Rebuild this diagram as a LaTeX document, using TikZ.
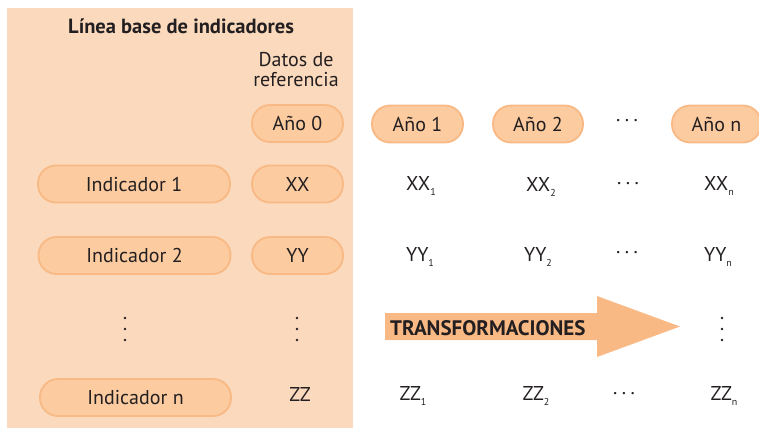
\documentclass[tikz,border=0pt]{standalone}
\usepackage{fontspec}
\setmainfont{PT Sans}
\definecolor{panelc}{HTML}{FBD9BC}
\definecolor{pillfill}{HTML}{FCCBA0}
\definecolor{pilledge}{HTML}{F8B985}
\definecolor{arrowc}{HTML}{F9B985}
\definecolor{txt}{HTML}{231F20}
\newcommand{\sbx}[1]{\raisebox{-5pt}{\fontsize{10}{10}\selectfont #1}}
\newcommand{\hdots}{.\hspace{4.5pt}.\hspace{4.5pt}.}
\tikzset{
  pill/.style={draw=pilledge, fill=pillfill, line width=1.8pt, rounded corners=18pt,
    minimum height=37pt, inner sep=0pt, text=txt, font=\fontsize{20}{20}\selectfont},
  plain/.style={inner sep=0pt, text=txt, font=\fontsize{20}{20}\selectfont},
  dotc/.style={fill=txt},
}
\begin{document}
\begin{tikzpicture}[x=1pt,y=-1pt]
\useasboundingbox (0,0) rectangle (759,429);
\fill[panelc] (7,8) rectangle (353,428);
\node[plain, font=\bfseries\fontsize{20.5}{20.5}\selectfont] (title) at (181,26) {Línea base de indicadores};
\node[plain, align=center, font=\fontsize{20}{20}\selectfont] (datos) at (296,70) {Datos de\\referencia};
% year pills
\node[pill, minimum width=91pt] (a0) at (297.5,123.5) {Año 0};
\node[pill, minimum width=91pt] (a1) at (417.5,124) {Año 1};
\node[pill, minimum width=90pt] (a2) at (538,124) {Año 2};
\node[plain] (adots) at (627,121) {\hdots};
\node[pill, minimum width=89pt] (an) at (716.5,124) {Año n};
% indicator pills
\node[pill, minimum width=192pt] (i1) at (134,184) {Indicador 1};
\node[pill, minimum width=91pt] (xx) at (297.5,184) {XX};
\node[pill, minimum width=192pt] (i2) at (134.5,255.5) {Indicador 2};
\node[pill, minimum width=91pt] (yy) at (297.5,255.5) {YY};
\node[pill, minimum width=191pt] (in) at (135.5,397.5) {Indicador n};
\node[plain] (zz) at (300,394) {ZZ};
% vertical dots
\foreach \x in {125,297,722}{
  \foreach \y in {318,329,340}{ \fill[dotc] (\x,\y) circle (1.3pt); }
}
% data values
\node[plain] (xx1) at (421,186) {XX\sbx{1}};
\node[plain] (xx2) at (541,187) {XX\sbx{2}};
\node[plain] (xdots) at (628,184) {\hdots};
\node[plain] (xxn) at (719,186) {XX\sbx{n}};
\node[plain] (yy1) at (420,257) {YY\sbx{1}};
\node[plain] (yy2) at (538,257) {YY\sbx{2}};
\node[plain] (ydots) at (627,253) {\hdots};
\node[plain] (yyn) at (718,257) {YY\sbx{n}};
\node[plain] (zz1) at (413,396) {ZZ\sbx{1}};
\node[plain] (zz2) at (536,396) {ZZ\sbx{2}};
\node[plain] (zdots) at (624,394) {\hdots};
\node[plain] (zzn) at (724,396) {ZZ\sbx{n}};
% arrow
\fill[arrowc] (385,313) -- (597,313) -- (597,296) -- (680,326.5) -- (597,357) -- (597,340) -- (385,340) -- cycle;
\node[plain, anchor=west, font=\bfseries\fontsize{21}{21}\selectfont] (tr) at (390,328) {TRANSFORMACIONES};
\end{tikzpicture}
\end{document}
